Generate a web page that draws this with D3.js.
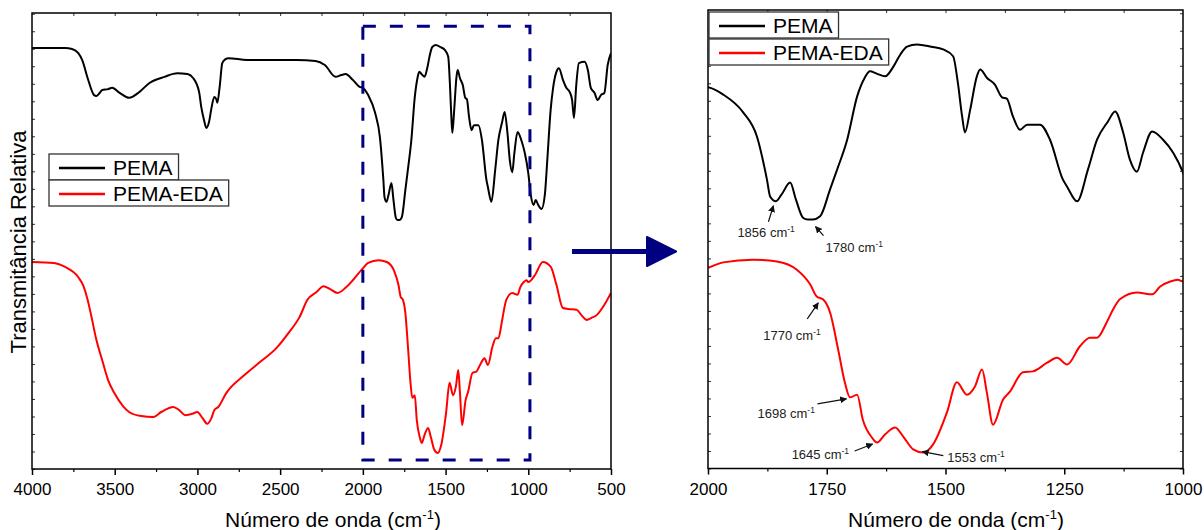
<!DOCTYPE html>
<html><head><meta charset="utf-8">
<script src="https://cdnjs.cloudflare.com/ajax/libs/d3/7.8.5/d3.min.js"></script>
<style>
body{margin:0;background:#fff}
svg{display:block;font-family:Arial,"Liberation Sans",sans-serif}
</style></head>
<body><svg id="c" width="1204" height="530"></svg>
<script>
// ---------------- DATA ----------------
const seriesNames = ["PEMA", "PEMA-EDA"];

const pemaWn = [
 4000,3800,3758,3720,3697,3660,3625,3610,3590,3576,
 3540,3516,3470,3413,3350,3292,3200,3122,3060,3025,
 2990,2977,2960,2946,2930,2915,2898,2885,2880,2865,
 2850,2830,2813,2700,2500,2400,2286,2230,2165,2130,
 2105,2060,2020,2000,1968,1926,1897,1876,1869,1857,
 1845,1827,1815,1800,1790,1779,1764,1743,1728,1707,
 1686,1670,1659,1645,1627,1611,1595,1581,1560,1530,
 1505,1484,1474,1465,1459,1448,1434,1427,1413,1396,
 1381,1371,1358,1343,1328,1301,1280,1253,1244,1223,
 1200,1181,1158,1143,1126,1112,1097,1084,1065,1042,
 1021,1000,985,968,955,940,920,900,885,865,
 850,830,815,790,770,750,735,724,710,694,
 660,640,622,600,580,561,540,520,500];
const pemaT = [
 92.3,92.3,92.1,91.2,89.7,85.3,82.0,81.8,82.5,83.1,
 83.3,83.6,82.5,81.4,82.7,84.6,86.0,86.8,86.6,85.7,
 82.7,79.4,76.5,74.8,76.1,79.2,81.6,81.0,80.3,84.0,
 89.0,89.9,90.1,89.7,89.7,89.7,89.5,88.6,86.0,86.4,
 86.6,85.3,83.8,83.6,82.0,78.1,72.8,63.4,59.6,58.6,
 60.1,62.7,59.0,55.0,54.6,54.6,55.3,61.2,65.6,72.1,
 81.6,85.7,87.1,86.6,86.0,87.9,90.8,92.5,93.0,92.5,
 91.9,90.4,84.6,77.2,73.7,78.7,86.0,87.5,85.7,84.2,
 81.4,81.1,77.2,74.3,75.4,75.4,72.1,63.4,61.8,58.6,
 65.6,72.1,76.1,78.3,73.7,67.8,65.1,69.3,73.9,72.1,
 69.3,64.9,60.1,57.9,59.0,57.9,57.0,60.1,67.8,78.7,
 83.6,87.1,87.9,85.3,83.6,82.7,80.9,77.0,84.2,89.0,
 89.3,87.5,83.6,82.5,80.9,82.0,82.5,88.6,91.2];

const edaWn = [
 4000,3867,3800,3721,3690,3665,3640,3612,3576,3540,
 3503,3450,3413,3340,3267,3219,3146,3110,3074,3030,
 3001,2970,2940,2915,2898,2874,2825,2716,2620,2523,
 2450,2383,2335,2280,2238,2200,2153,2100,2000,1968,
 1905,1855,1813,1785,1771,1758,1743,1726,1712,1701,
 1686,1674,1655,1644,1627,1606,1589,1568,1547,1526,
 1497,1476,1455,1438,1423,1413,1400,1379,1364,1337,
 1316,1286,1265,1244,1217,1196,1181,1160,1147,1133,
 1097,1065,1048,1027,1011,1000,960,912,864,830,
 791,760,706,680,646,620,585,540,500];
const edaT = [
 45.4,45.2,44.3,42.1,40.2,37.3,33.3,28.5,23.9,19.5,
 16.7,13.8,12.5,11.6,11.4,12.5,13.6,12.9,11.8,12.1,
 12.5,11.2,9.9,11.2,12.9,13.6,16.7,20.6,23.5,26.5,
 29.8,33.3,37.1,38.8,40.1,39.5,38.6,39.9,44.0,45.2,
 45.8,45.4,43.6,40.4,37.7,37.1,34.2,26.1,18.9,15.6,
 16.2,10.7,6.8,5.7,7.5,9.0,7.0,4.2,3.5,5.3,
 12.3,18.9,16.2,18.0,21.7,16.7,9.6,15.1,16.9,21.1,
 21.3,23.2,24.3,22.8,26.8,28.7,28.7,32.2,34.9,37.1,
 38.6,38.2,39.9,41.0,41.4,41.0,42.5,45.4,44.3,40.4,
 35.3,35.1,34.9,33.8,32.7,33.1,33.8,36.0,38.6];

const leftTicks = [4000,3500,3000,2500,2000,1500,1000,500];
const rightTicks = [2000,1750,1500,1250,1000];
const annWn = [1856, 1780, 1770, 1698, 1645, 1553];
const annSeries = [0, 0, 1, 1, 1, 1];
const zoomBox = [2000, 990];   // wavenumber range of the dashed box
const zoomBoxT = [2.0, 97.1];

// ---------------- LAYOUT ----------------
const svg = d3.select("#c");
const L = {x0:32, x1:611, y0:13, y1:469};
const R = {x0:708, x1:1183, y0:10, y1:468.5};
const colors = ["#000000", "#ff0000"];
const navy = "#000080";

const xL = d3.scaleLinear().domain([4000,500]).range([L.x0,L.x1]);
const yL = d3.scaleLinear().domain([0,100]).range([L.y1, L.y1-456]);
const xR = d3.scaleLinear().domain([2000,1000]).range([R.x0,R.x1]);
const yR = d3.scaleLinear().domain([0,100]).range([R.y1, R.y1-456]);

const series = [
  pemaWn.map((w,i)=>({w, t:pemaT[i]})),
  edaWn.map((w,i)=>({w, t:edaT[i]}))
];

const defs = svg.append("defs");
[["clipL",L],["clipR",R]].forEach(([id,P])=>{
  defs.append("clipPath").attr("id",id).append("rect")
    .attr("x",P.x0).attr("y",P.y0).attr("width",P.x1-P.x0).attr("height",P.y1-P.y0);
});
defs.append("marker").attr("id","ah").attr("viewBox","0 0 10 10")
  .attr("refX",9).attr("refY",5).attr("markerWidth",7).attr("markerHeight",7)
  .attr("markerUnits","userSpaceOnUse").attr("orient","auto")
  .append("path").attr("d","M0,0 L10,5 L0,10 z").attr("fill","#111");

function panel(P, x, y, clip, majorTicks, minorTicks, topTicks, rightSideTicks){
  const g = svg.append("g");
  const line = d3.line().x(d=>x(d.w)).y(d=>y(d.t)).curve(d3.curveMonotoneX);
  const cg = g.append("g").attr("clip-path",`url(#${clip})`);
  series.forEach((s,i)=>{
    cg.append("path").datum(s).attr("d",line).attr("fill","none")
      .attr("stroke",colors[i]).attr("stroke-width",2).attr("stroke-linejoin","round");
  });
  const ax = g.append("g").attr("transform",`translate(0,${P.y1})`)
    .call(d3.axisBottom(x).tickValues(majorTicks).tickSize(6).tickPadding(8).tickFormat(d3.format("d")));
  ax.select(".domain").remove();
  ax.selectAll("line").attr("stroke","#000").attr("stroke-width",1.5);
  ax.selectAll("text").attr("font-size",17).attr("font-family","Arial, 'Liberation Sans', sans-serif").attr("fill","#000");
  const axm = g.append("g").attr("transform",`translate(0,${P.y1})`)
    .call(d3.axisBottom(x).tickValues(minorTicks).tickSize(3).tickFormat(""));
  axm.select(".domain").remove();
  axm.selectAll("line").attr("stroke","#000").attr("stroke-width",1.2);
  const at = g.append("g").attr("transform",`translate(0,${P.y0})`)
    .call(d3.axisTop(x).tickValues(topTicks).tickSize(-3).tickFormat(""));
  at.select(".domain").remove();
  at.selectAll("line").attr("stroke","#333").attr("stroke-width",1);
  const yt = d3.range(0, 100, 3.84);
  const al = g.append("g").attr("transform",`translate(${P.x0},0)`)
    .call(d3.axisLeft(y).tickValues(yt).tickSize(-3).tickFormat(""));
  al.select(".domain").remove();
  al.selectAll("line").attr("stroke","#333").attr("stroke-width",1);
  if (rightSideTicks){
    const ar = g.append("g").attr("transform",`translate(${P.x1},0)`)
      .call(d3.axisRight(y).tickValues(yt).tickSize(-3).tickFormat(""));
    ar.select(".domain").remove();
    ar.selectAll("line").attr("stroke","#333").attr("stroke-width",1);
  }
  g.append("rect").attr("x",P.x0).attr("y",P.y0).attr("width",P.x1-P.x0).attr("height",P.y1-P.y0)
    .attr("fill","none").attr("stroke","#000").attr("stroke-width",1.5);
  return g;
}

panel(L, xL, yL, "clipL", leftTicks, d3.range(3750, 500, -500), d3.range(3750, 500, -250), false);
panel(R, xR, yR, "clipR", rightTicks, [1875,1625,1375,1125], d3.range(1875, 1000, -125), true);

function xTitle(cx){
  const t = svg.append("text").attr("x",cx).attr("y",527).attr("text-anchor","middle")
    .attr("font-size",21).attr("fill","#000");
  t.append("tspan").text("Número de onda (cm");
  t.append("tspan").attr("dy",-8).attr("font-size",13).text("-1");
  t.append("tspan").attr("dy",8).text(")");
}
xTitle(333); xTitle(956);

svg.append("text").attr("transform","translate(26,242) rotate(-90)")
  .attr("text-anchor","middle").attr("font-size",22).attr("fill","#000")
  .text("Transmitância Relativa");

svg.append("rect")
  .attr("x",xL(zoomBox[0])).attr("y",yL(zoomBoxT[1]))
  .attr("width",xL(zoomBox[1])-xL(zoomBox[0])).attr("height",yL(zoomBoxT[0])-yL(zoomBoxT[1]))
  .attr("fill","none").attr("stroke",navy).attr("stroke-width",3).attr("stroke-dasharray","13,14");

svg.append("rect").attr("x",572).attr("y",249).attr("width",78).attr("height",5).attr("fill",navy);
svg.append("path").attr("d","M647,237 L676,251.5 L647,266 Z").attr("fill",navy)
  .attr("stroke",navy).attr("stroke-width",2).attr("stroke-linejoin","round");

function legend(x0, tops){
  seriesNames.forEach((name,i)=>{
    const top = tops[i];
    const g = svg.append("g");
    const box = g.append("rect").attr("x",x0).attr("y",top).attr("height",26)
      .attr("fill","#fff").attr("stroke","#333").attr("stroke-width",1.3);
    g.append("line").attr("x1",x0+10).attr("x2",x0+56).attr("y1",top+14).attr("y2",top+14)
      .attr("stroke",colors[i]).attr("stroke-width",2.5);
    const t = g.append("text").attr("x",x0+64).attr("y",top+21).attr("font-size",21)
      .attr("fill","#000").text(name);
    const w = t.node().getComputedTextLength();
    box.attr("width",64+w+6);
  });
}
legend(49, [154, 180]);
legend(709, [12, 39]);

function interp(s, w){
  for (let i=0;i<s.length-1;i++){
    const a=s[i], b=s[i+1];
    if ((a.w>=w && b.w<=w)) return a.t + (b.t-a.t)*(a.w-w)/(a.w-b.w);
  }
  return s[s.length-1].t;
}
const annLayout = [
  {tip:[-3,5],  tail:[-8,21],  text:[-39,36]},
  {tip:[3,7],   tail:[11,16],  text:[13,32]},
  {tip:[1,6],   tail:[-10,22], text:[-54,43]},
  {tip:[-5,2],  tail:[-34,7],  text:[-94,21]},
  {tip:[-4,2],  tail:[-22,9],  text:[-85,17]},
  {tip:[2,0],   tail:[23,4],   text:[27,10]}
];
annWn.forEach((w,i)=>{
  const px = xR(w), py = yR(interp(series[annSeries[i]], w));
  const lay = annLayout[i];
  svg.append("line")
    .attr("x1",px+lay.tail[0]).attr("y1",py+lay.tail[1])
    .attr("x2",px+lay.tip[0]).attr("y2",py+lay.tip[1])
    .attr("stroke","#111").attr("stroke-width",1.2).attr("marker-end","url(#ah)");
  const t = svg.append("text").attr("x",px+lay.text[0]).attr("y",py+lay.text[1])
    .attr("font-size",13).attr("fill","#222");
  t.append("tspan").text(w + " cm");
  t.append("tspan").attr("dy",-5).attr("font-size",8.5).text("-1");
});
</script></body></html>
